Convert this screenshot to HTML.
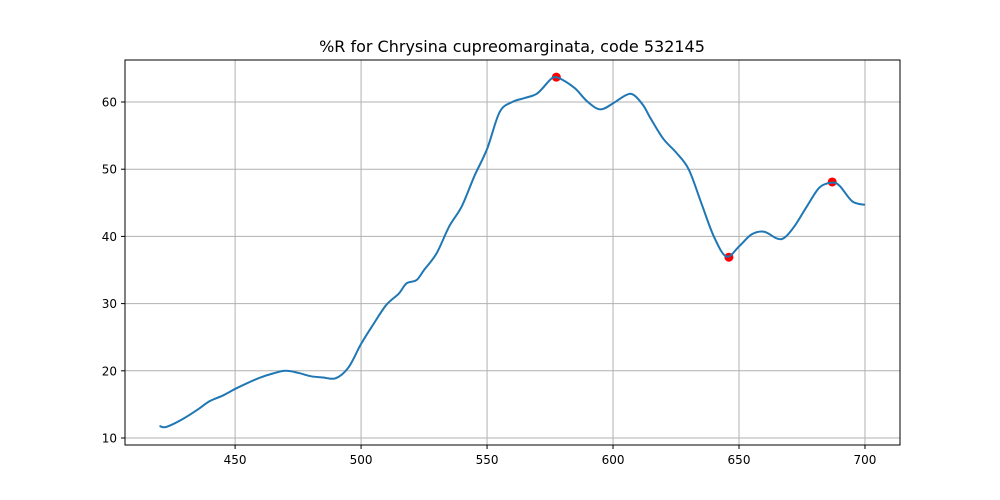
<!DOCTYPE html>
<html><head><meta charset="utf-8"><style>
html,body{margin:0;padding:0;background:#fff;}
svg{display:block;font-family:"DejaVu Sans","Liberation Sans",sans-serif;}
</style></head><body>
<svg id="chart" width="1000" height="500" viewBox="0 0 1000 500" xmlns="http://www.w3.org/2000/svg">
<rect width="1000" height="500" fill="#fff"/>
<text x="512" y="52" text-anchor="middle" font-size="16" fill="#000">%R for Chrysina cupreomarginata, code 532145</text>
<g id="grid"></g>
<g id="ticks"></g>
<g id="marks"></g>
<rect x="125" y="60" width="775" height="385" fill="none" stroke="#000" stroke-width="1"/>
</svg>
<script>
const wavelengths=[420,422,425,430,435,440,445,450,455,460,465,470,475,480,485,490,495,500,505,510,515,518,522,525,530,535,540,545,550,555,560,565,570,575,577,580,585,590,595,600,605,608,612,615,620,625,630,635,640,645,650,655,660,665,668,672,677,682,687,690,695,700];
const reflectance=[11.8,11.6,12.0,13.0,14.2,15.5,16.3,17.3,18.2,19.0,19.6,20.0,19.7,19.2,19.0,18.9,20.5,24.0,27.0,29.8,31.5,33.0,33.5,35.0,37.5,41.5,44.5,49.0,53.0,58.5,60.0,60.6,61.3,63.3,63.7,63.3,62.0,60.0,58.9,59.8,61.0,61.1,59.5,57.5,54.5,52.5,50.0,45.0,40.0,37.0,38.5,40.3,40.7,39.7,39.8,41.5,44.5,47.3,48.0,47.5,45.2,44.7];
const peakX=[577.5,646,687];
const peakY=[63.7,36.9,48.1];
const xTicks=[450,500,550,600,650,700];
const yTicks=[10,20,30,40,50,60];
const NS="http://www.w3.org/2000/svg";
const X0=125,X1=900,Y0=445,Y1=60,xmin=406.3,xmax=713.9,ymin=8.96,ymax=66.25;
function sx(v){return X0+(v-xmin)/(xmax-xmin)*(X1-X0);}
function sy(v){return Y0-(v-ymin)/(ymax-ymin)*(Y0-Y1);}
function mk(tag,attrs,parent){const e=document.createElementNS(NS,tag);for(const k in attrs)e.setAttribute(k,attrs[k]);document.getElementById(parent).appendChild(e);return e;}
xTicks.forEach(t=>{
  const g=mk('line',{x1:sx(t),x2:sx(t),y1:Y1,y2:Y0,stroke:'#b0b0b0','stroke-width':1},'grid');
  
  
  const tk=mk('line',{x1:sx(t),x2:sx(t),y1:Y0,y2:Y0+4,stroke:'#000'},'ticks');
  
  
  const tx=mk('text',{x:sx(t),y:Y0+19,'text-anchor':'middle','font-size':12,fill:'#000'},'ticks');
  tx.textContent=t;
  
  
});
yTicks.forEach(t=>{
  const g=mk('line',{x1:X0,x2:X1,y1:sy(t),y2:sy(t),stroke:'#b0b0b0','stroke-width':1},'grid');
  
  
  const tk=mk('line',{x1:X0-4,x2:X0,y1:sy(t),y2:sy(t),stroke:'#000'},'ticks');
  
  
  const tx=mk('text',{x:X0-8,y:sy(t)+4.5,'text-anchor':'end','font-size':12,fill:'#000'},'ticks');
  tx.textContent=t;
  
  
});
peakX.forEach((p,i)=>{
  const c=mk('circle',{cx:sx(p),cy:sy(peakY[i]),r:4.5,fill:'#ff0000'},'marks');
  
  
});
const pts=wavelengths.map((w,i)=>[sx(w),sy(reflectance[i])]);
let d='M'+pts[0][0]+','+pts[0][1];
for(let i=0;i<pts.length-1;i++){
  const p0=pts[Math.max(0,i-1)],p1=pts[i],p2=pts[i+1],p3=pts[Math.min(pts.length-1,i+2)];
  const c1=[p1[0]+(p2[0]-p0[0])/6,p1[1]+(p2[1]-p0[1])/6];
  const c2=[p2[0]-(p3[0]-p1[0])/6,p2[1]-(p3[1]-p1[1])/6];
  d+=' C'+c1[0]+','+c1[1]+' '+c2[0]+','+c2[1]+' '+p2[0]+','+p2[1];
}
const line=mk('path',{d:d,fill:'none',stroke:'#1f77b4','stroke-width':2,'stroke-linejoin':'round'},'marks');


</script>
</body></html>
